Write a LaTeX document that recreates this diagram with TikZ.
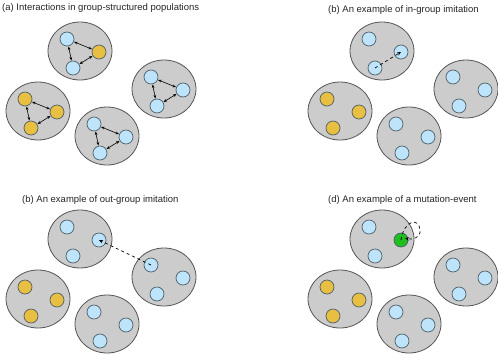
\documentclass[tikz,border=0pt]{standalone}
\usepackage{fontspec}
\setmainfont{Liberation Sans}
\usetikzlibrary{shapes.geometric,arrows.meta}
\definecolor{grpfill}{HTML}{CCCCCC}
\definecolor{grpline}{HTML}{555555}
\definecolor{ab}{HTML}{BEE4FB}
\definecolor{ay}{HTML}{E8BF40}
\definecolor{ag}{HTML}{1EC01E}
\definecolor{agline}{HTML}{4F5F6A}
\tikzset{
  grpbox/.style={ellipse,draw=grpline,fill=grpfill,line width=0.8pt,minimum width=64pt,minimum height=58pt,inner sep=0pt},
  agent/.style={circle,draw=agline,line width=0.7pt,minimum size=14pt,inner sep=0pt},
  dbl/.style={{Stealth[length=3.5pt,width=2.8pt]}-{Stealth[length=3.5pt,width=2.8pt]},line width=0.6pt,shorten <=0.3pt,shorten >=0.3pt},
  dasharrow/.style={-{Stealth[length=4pt,width=3.5pt]},dashed,line width=0.7pt},
  ttl/.style={anchor=west,font=\fontsize{9.5pt}{11pt}\selectfont,text=black!85,inner sep=0pt}
}
\newcommand\grp[6]{%
  \node[grpbox] (#1) at (#2,#3) {};
  \node[agent,fill=#4] (#1p) at ([shift={(-13,-12)}]#1.center) {};
  \node[agent,fill=#5] (#1q) at ([shift={(19,1)}]#1.center) {};
  \node[agent,fill=#6] (#1r) at ([shift={(-7,17)}]#1.center) {};
}
\begin{document}
\begin{tikzpicture}[x=1pt,y=-1pt]
\useasboundingbox (0,0) rectangle (498,354);
% panel (a)
\node[ttl] (ta) at (2,8.5) {(a) Interactions in group-structured populations};
\grp{a1}{80}{51}{ab}{ay}{ab}
\grp{a2}{164}{89}{ab}{ab}{ab}
\grp{a3}{38}{111}{ay}{ay}{ay}
\grp{a4}{107}{136}{ab}{ab}{ab}
\foreach \g in {a1,a2,a3,a4}{
  \draw[dbl] (\g p) -- (\g q);
  \draw[dbl] (\g p) -- (\g r);
  \draw[dbl] (\g r) -- (\g q);
}
% panel (b)
\node[ttl] (tb) at (328,10) {(b) An example of in-group imitation};
\grp{b1}{382}{51}{ab}{ab}{ab}
\grp{b2}{466}{89}{ab}{ab}{ab}
\grp{b3}{340}{111}{ay}{ay}{ay}
\grp{b4}{409}{136}{ab}{ab}{ab}
\draw[dasharrow] (b1r.center) -- (b1q.center);
% panel (c)
\node[ttl] (tc) at (22,200) {(b) An example of out-group imitation};
\grp{c1}{80}{239}{ab}{ab}{ab}
\grp{c2}{164}{277}{ab}{ab}{ab}
\grp{c3}{38}{299}{ay}{ay}{ay}
\grp{c4}{107}{324}{ab}{ab}{ab}
\draw[dasharrow] (c2p.center) -- (c1q.center);
% panel (d)
\node[ttl] (td) at (328,200) {(d) An example of a mutation-event};
\grp{d1}{382}{239}{ab}{ag}{ab}
\grp{d2}{466}{277}{ab}{ab}{ab}
\grp{d3}{340}{299}{ay}{ay}{ay}
\grp{d4}{409}{324}{ab}{ab}{ab}
\coordinate (dloop) at (420,230);
\coordinate (dend) at ([shift={(4,-2)}]d1q.center);
\draw[dasharrow] (d1q.center) .. controls (404,220) and (419,217) .. (dloop) .. controls (421,238) and (412,240) .. (dend);
\end{tikzpicture}
\end{document}
